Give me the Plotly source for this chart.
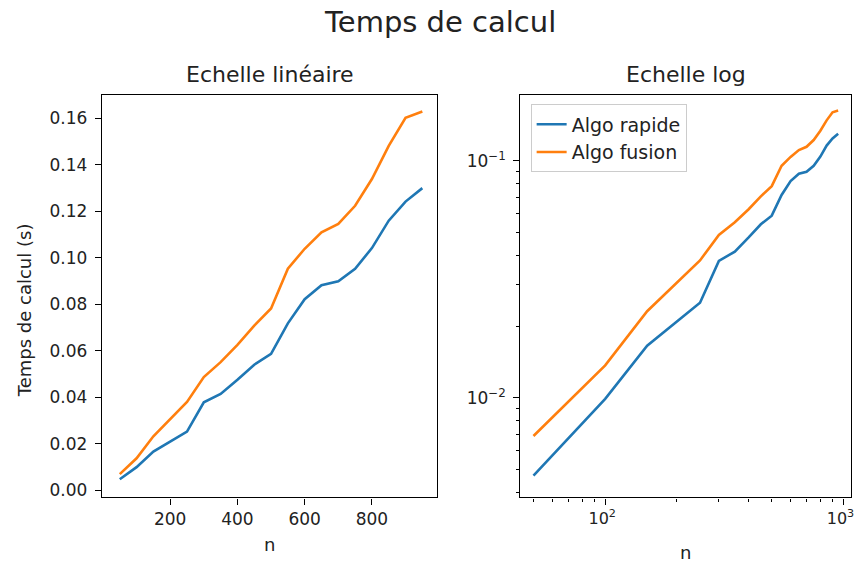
import plotly.graph_objects as go

# ---- data ----
n_values = [50, 100, 150, 200, 250, 300, 350, 400, 450, 500,
            550, 600, 650, 700, 750, 800, 850, 900, 950]
algo_rapide = [0.0047, 0.0099, 0.0166, 0.0209, 0.0252, 0.0378, 0.0414, 0.0475, 0.0540, 0.0587,
               0.0718, 0.0822, 0.0882, 0.0899, 0.0953, 0.1042, 0.1160, 0.1242, 0.1300]
algo_fusion = [0.0069, 0.0137, 0.0232, 0.0305, 0.0380, 0.0487, 0.0551, 0.0625, 0.0708, 0.0782,
               0.0953, 0.1039, 0.1110, 0.1146, 0.1224, 0.1339, 0.1482, 0.1603, 0.1630]
series_names = ["Algo rapide", "Algo fusion"]

lin_x_ticks = [200, 400, 600, 800]
lin_x_labels = ["200", "400", "600", "800"]
lin_y_ticks = [0.00, 0.02, 0.04, 0.06, 0.08, 0.10, 0.12, 0.14, 0.16]
lin_y_labels = ["0.00", "0.02", "0.04", "0.06", "0.08", "0.10", "0.12", "0.14", "0.16"]
log_x_ticks = [100, 1000]
log_x_labels = ["10<sup>2</sup>", "10<sup>3</sup>"]
log_x_minor = [50, 60, 70, 80, 90, 200, 300, 400, 500, 600, 700, 800, 900]
log_y_ticks = [0.01, 0.1]
log_y_labels = ["10<sup>\u22122</sup>", "10<sup>\u22121</sup>"]
log_y_minor = [0.004, 0.005, 0.006, 0.007, 0.008, 0.009,
               0.02, 0.03, 0.04, 0.05, 0.06, 0.07, 0.08, 0.09]

title_text = "Temps de calcul"
sub_titles = ["Echelle linéaire", "Echelle log"]
x_label = "n"
y_label = "Temps de calcul (s)"

colors = ["#1f77b4", "#ff7f0e"]
W, H = 860, 565
FONT = "DejaVu Sans"
TXT = "#222222"

fig = go.Figure()
for i, ys in enumerate([algo_rapide, algo_fusion]):
    fig.add_trace(go.Scatter(x=n_values, y=ys, mode="lines", name=series_names[i],
                             line=dict(color=colors[i], width=2.6),
                             xaxis="x", yaxis="y", showlegend=False))
for i, ys in enumerate([algo_rapide, algo_fusion]):
    fig.add_trace(go.Scatter(x=n_values, y=ys, mode="lines", name=series_names[i],
                             line=dict(color=colors[i], width=2.6),
                             xaxis="x2", yaxis="y2", showlegend=True))

def px_x(p):
    return p / W

def px_y(p):
    return 1 - p / H

def axis_style(size=17):
    return dict(showline=True, linecolor="black", linewidth=1.4, mirror=True,
                ticks="outside", ticklen=6, tickwidth=1.3, tickcolor="black",
                showgrid=False, zeroline=False,
                tickfont=dict(family=FONT, size=size, color=TXT))

L_dom = [px_x(102.3), px_x(439)]
R_dom = [px_x(522.3), px_x(853.7)]
Y_dom = [px_y(500), px_y(95.7)]

fig.update_layout(
    width=W, height=H, autosize=False,
    margin=dict(l=0, r=0, t=0, b=0),
    paper_bgcolor="white", plot_bgcolor="white",
    xaxis=dict(domain=L_dom, range=[-3, 995], tickmode="array",
               tickvals=lin_x_ticks, ticktext=lin_x_labels, anchor="y", **axis_style()),
    yaxis=dict(domain=Y_dom, range=[-0.0031, 0.170], tickmode="array",
               tickvals=lin_y_ticks, ticktext=lin_y_labels, anchor="x",
               ticklabelstandoff=4, **axis_style()),
    xaxis2=dict(domain=R_dom, type="log", range=[1.6444, 3.0305], tickmode="array",
                tickvals=log_x_ticks, ticktext=log_x_labels, anchor="y2",
                ticklabelshift=-3,
                minor=dict(ticks="outside", ticklen=3.5, tickwidth=1.1, tickcolor="black",
                           tickmode="array", tickvals=log_x_minor, showgrid=False),
                **axis_style(16)),
    yaxis2=dict(domain=Y_dom, type="log", range=[-2.42, -0.723], tickmode="array",
                tickvals=log_y_ticks, ticktext=log_y_labels, anchor="x2",
                ticklabelstandoff=4,
                minor=dict(ticks="outside", ticklen=3.5, tickwidth=1.1, tickcolor="black",
                           tickmode="array", tickvals=log_y_minor, showgrid=False),
                **axis_style()),
    legend=dict(x=px_x(532.5), y=px_y(105), xanchor="left", yanchor="top",
                bgcolor="rgba(255,255,255,0.8)", bordercolor="#cccccc", borderwidth=1,
                font=dict(family=FONT, size=19, color=TXT), tracegroupgap=0),
)

ann = [
    dict(text=title_text, x=px_x(442), y=px_y(22), font=dict(size=29)),
    dict(text=sub_titles[0], x=(L_dom[0] + L_dom[1]) / 2, y=px_y(75), font=dict(size=22)),
    dict(text=sub_titles[1], x=(R_dom[0] + R_dom[1]) / 2, y=px_y(75), font=dict(size=22)),
    dict(text=x_label, x=(L_dom[0] + L_dom[1]) / 2, y=px_y(547), font=dict(size=18)),
    dict(text=x_label, x=(R_dom[0] + R_dom[1]) / 2, y=px_y(555), font=dict(size=18)),
    dict(text=y_label, x=px_x(24), y=px_y(312), font=dict(size=18), textangle=-90),
]
for a in ann:
    a["font"].update(family=FONT, color=TXT)
    fig.add_annotation(xref="paper", yref="paper", xanchor="center", yanchor="middle",
                       showarrow=False, **a)

fig.write_html("out.html")
